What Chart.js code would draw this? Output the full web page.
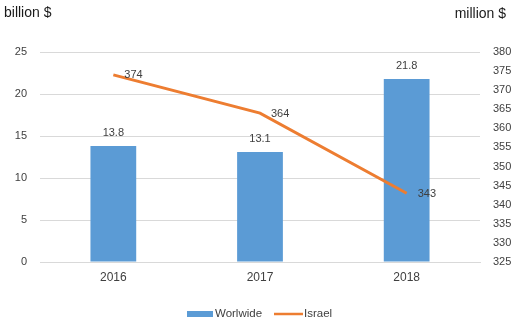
<!DOCTYPE html>
<html><head><meta charset="utf-8">
<script src="https://cdn.jsdelivr.net/npm/chart.js@4"></script>
<style>html,body{margin:0;padding:0;background:#fff}#w{width:513px;height:327px}</style>
</head><body><div id="w"><canvas id="c"></canvas></div>
<script>
const categories = ['2016', '2017', '2018'];
const worldwide = [13.8, 13.1, 21.8];
const israel = [374, 364, 343];
const leftTicks = {min: 0, max: 25, step: 5};
const rightTicks = {min: 325, max: 380, step: 5};
const FONT = '"Liberation Sans", Arial, sans-serif';

const labelsPlugin = {
  id: 'labels',
  afterDatasetsDraw(chart) {
    const ctx = chart.ctx;
    const barIdx = chart.data.datasets.findIndex(d => d.type === 'bar');
    const lineIdx = chart.data.datasets.findIndex(d => d.type === 'line');
    ctx.save();
    ctx.font = '11px ' + FONT;
    ctx.fillStyle = '#404040';
    ctx.textBaseline = 'middle';
    chart.getDatasetMeta(barIdx).data.forEach((el, i) => {
      ctx.textAlign = 'center';
      ctx.fillText(String(worldwide[i]), el.x, el.y - 13);
    });
    chart.getDatasetMeta(lineIdx).data.forEach((el, i) => {
      ctx.textAlign = 'left';
      ctx.fillText(String(israel[i]), el.x + 11, el.y + 0.5);
    });
    // axis titles
    ctx.font = '14px ' + FONT;
    ctx.fillStyle = '#1a1a1a';
    ctx.textAlign = 'left';
    ctx.fillText('billion $', 4, 13);
    ctx.textAlign = 'right';
    ctx.fillText('million $', 506, 14);
    // legend
    const ly = 314;
    ctx.fillStyle = '#5B9BD5';
    ctx.fillRect(187, ly - 3, 26, 6);
    ctx.font = '11.5px ' + FONT;
    ctx.fillStyle = '#404040';
    ctx.textAlign = 'left';
    ctx.fillText(chart.data.datasets[barIdx].label, 215, ly);
    ctx.strokeStyle = '#ED7D31';
    ctx.lineWidth = 2.5;
    ctx.beginPath(); ctx.moveTo(274, ly); ctx.lineTo(303, ly); ctx.stroke();
    ctx.fillText(chart.data.datasets[lineIdx].label, 304, ly);
    ctx.restore();
  }
};

new Chart(document.getElementById('c'), {
  data: {
    labels: categories,
    datasets: [
      {type: 'bar', label: 'Worlwide', data: worldwide, yAxisID: 'y', backgroundColor: '#5B9BD5', barPercentage: 0.39, categoryPercentage: 0.8, order: 1},
      {type: 'line', label: 'Israel', data: israel, yAxisID: 'y1', borderColor: '#ED7D31', backgroundColor: '#ED7D31', borderWidth: 3, pointRadius: 0, tension: 0, order: 0}
    ]
  },
  options: {
    responsive: true, maintainAspectRatio: false, animation: false,
    layout: {padding: {top: 52, left: 0, right: 0, bottom: 0}},
    plugins: {legend: {display: false}, tooltip: {enabled: false}},
    scales: {
      x: {
        grid: {display: false, drawTicks: false},
        border: {color: '#d9d9d9'},
        ticks: {padding: 8, color: '#404040', font: {family: FONT, size: 12}},
        afterFit(s) { s.height = 65; }
      },
      y: {
        position: 'left', min: leftTicks.min, max: leftTicks.max,
        ticks: {stepSize: leftTicks.step, padding: 13, color: '#404040', font: {family: FONT, size: 11}},
        grid: {color: '#d9d9d9', drawTicks: false},
        border: {display: false},
        afterFit(s) { s.width = 40; }
      },
      y1: {
        position: 'right', min: rightTicks.min, max: rightTicks.max,
        ticks: {stepSize: rightTicks.step, padding: 13, color: '#404040', font: {family: FONT, size: 11}},
        grid: {display: false, drawTicks: false},
        border: {display: false},
        afterFit(s) { s.width = 33; }
      }
    }
  },
  plugins: [labelsPlugin]
});
</script></body></html>
